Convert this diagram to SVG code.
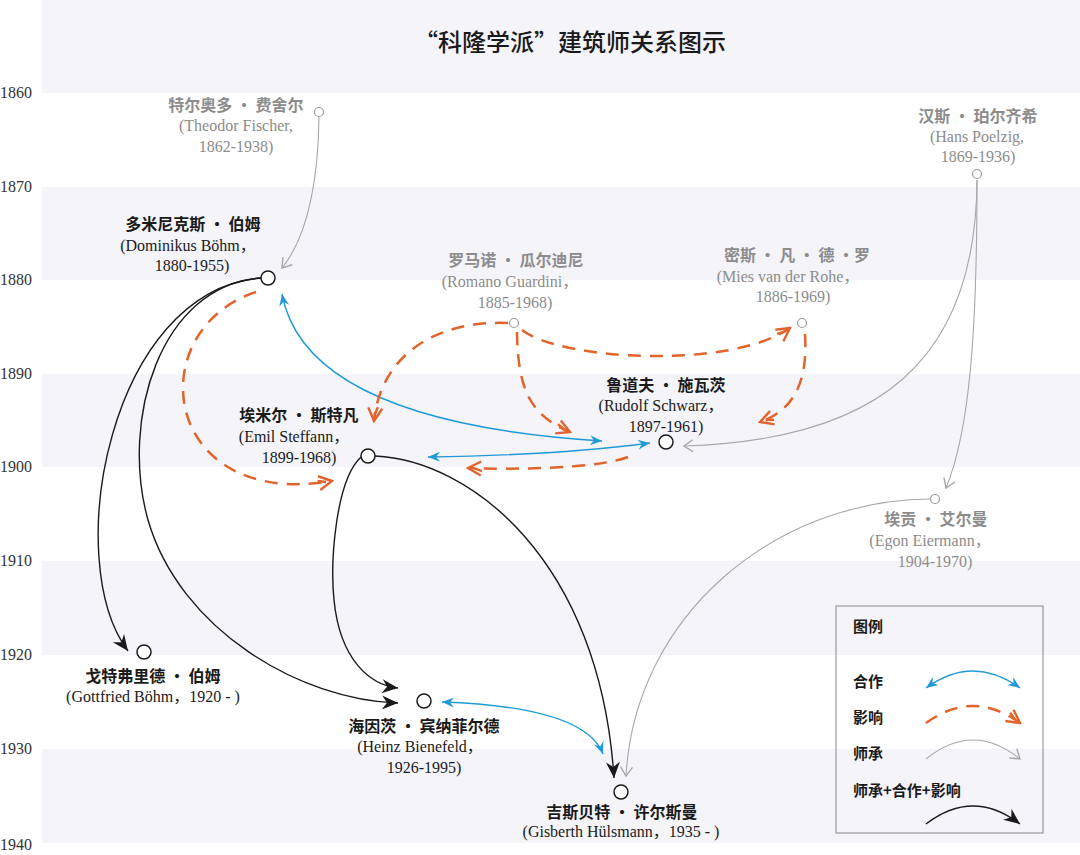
<svg xmlns="http://www.w3.org/2000/svg" width="1080" height="855" viewBox="0 0 1080 855">
<style>
.band{fill:#f4f4f9}
.yr{font-family:"Liberation Serif",serif;font-size:16px;fill:#333}
.cn{font-family:"Noto Sans CJK SC",sans-serif;font-size:16px;font-weight:700;text-anchor:middle}
.en{font-family:"Liberation Serif","Noto Sans CJK SC",serif;font-size:16px;text-anchor:middle}
.k{fill:#1a1a1a}
.g{fill:#8c8c8c}
.nb{fill:#fff;stroke:#1a1a1a;stroke-width:1.5}
.ng{fill:#fff;stroke:#9a9a9a;stroke-width:1.2}
.c-k{fill:none;stroke:#1a1a1a;stroke-width:1.4}
.c-b{fill:none;stroke:#1f9ad6;stroke-width:1.4}
.c-g{fill:none;stroke:#a8a8a8;stroke-width:1.1}
.c-o{fill:none;stroke:#e2632b;stroke-width:2.5;stroke-dasharray:13 9}
.lg{font-family:"Noto Sans CJK SC",sans-serif;font-size:15px;font-weight:700;fill:#1a1a1a}
</style>
<defs>
<marker id="mk" viewBox="-17 -8 18 16" refX="0" refY="0" markerWidth="18" markerHeight="16" markerUnits="userSpaceOnUse" orient="auto"><path d="M0,0 L-16,-7 L-11,0 L-16,7Z" fill="#1a1a1a"/></marker>
<marker id="mb" viewBox="-13 -6 14 12" refX="0" refY="0" markerWidth="14" markerHeight="12" markerUnits="userSpaceOnUse" orient="auto-start-reverse"><path d="M0,0 L-12,-5 L-8,0 L-12,5Z" fill="#1f9ad6"/></marker>
<marker id="mg" viewBox="-12 -8 13 16" refX="0" refY="0" markerWidth="13" markerHeight="16" markerUnits="userSpaceOnUse" orient="auto"><path d="M-9,-6 L0,0 L-9,6" fill="none" stroke="#a8a8a8" stroke-width="1.4"/></marker>
<marker id="mo" viewBox="-16 -10 18 20" refX="0" refY="0" markerWidth="18" markerHeight="20" markerUnits="userSpaceOnUse" orient="auto"><path d="M-13,-7 L0,0 L-13,7 M-14,-2.5 L-6,0" fill="none" stroke="#e2632b" stroke-width="2.4"/></marker>
</defs>
<rect width="1080" height="855" fill="#fff"/>
<g id="bands">
<rect class="band" x="42" y="0" width="1038" height="93"/>
<rect class="band" x="42" y="187" width="1038" height="93"/>
<rect class="band" x="42" y="374" width="1038" height="93"/>
<rect class="band" x="42" y="561" width="1038" height="94"/>
<rect class="band" x="42" y="749" width="1038" height="94"/>
</g>
<g id="axis">
<text class="yr" x="0" y="98">1860</text>
<text class="yr" x="0" y="192">1870</text>
<text class="yr" x="0" y="285">1880</text>
<text class="yr" x="0" y="379">1890</text>
<text class="yr" x="0" y="472">1900</text>
<text class="yr" x="0" y="566">1910</text>
<text class="yr" x="0" y="660">1920</text>
<text class="yr" x="0" y="754">1930</text>
<text class="yr" x="0" y="850">1940</text>
</g>
<text id="title" x="570" y="51" font-family="Noto Sans CJK SC, sans-serif" font-size="24" font-weight="500" fill="#1a1a1a" text-anchor="middle">“科隆学派”建筑师关系图示</text>
<g id="connectors">
<path class="c-g" d="M319,117 C318,190 306,238 282,268" marker-end="url(#mg)"/>
<path class="c-g" d="M977,180 C976,360 880,440 684,446" marker-end="url(#mg)"/>
<path class="c-g" d="M977,180 C977,330 970,430 946,488" marker-end="url(#mg)"/>
<path class="c-g" d="M930,499 C775,500 635,615 626,776" marker-end="url(#mg)"/>
<path class="c-k" d="M261,278 C110,290 60,560 128,651" marker-end="url(#mk)"/>
<path class="c-k" d="M261,278 C160,285 120,420 148,520 C180,630 300,700 398,703" marker-end="url(#mk)"/>
<path class="c-k" d="M361,457 C336,480 330,560 334,600 C340,660 370,685 398,688" marker-end="url(#mk)"/>
<path class="c-k" d="M375,456 C470,460 600,560 614,778" marker-end="url(#mk)"/>
<path class="c-b" d="M282,294 C300,390 430,430 602,441" marker-start="url(#mb)" marker-end="url(#mb)"/>
<path class="c-b" d="M428,457 Q560,455 650,443" marker-start="url(#mb)" marker-end="url(#mb)"/>
<path class="c-b" d="M442,702 C530,705 590,720 603,754" marker-start="url(#mb)" marker-end="url(#mb)"/>
<path class="c-o" d="M256,292 C140,330 160,510 332,481" marker-end="url(#mo)"/>
<path class="c-o" d="M508,323 C430,320 380,360 374,421" marker-end="url(#mo)"/>
<path class="c-o" d="M517,332 C518,390 530,415 570,432" marker-end="url(#mo)"/>
<path class="c-o" d="M522,330 C560,360 730,370 790,328" marker-end="url(#mo)"/>
<path class="c-o" d="M805,334 C808,380 795,410 760,422" marker-end="url(#mo)"/>
<path class="c-o" d="M628,457 C600,468 520,470 468,468" marker-end="url(#mo)"/>
</g>
<g id="n-fischer">
<circle class="ng" cx="319" cy="112" r="4.5"/>
<text class="cn g" x="236" y="111">特尔奥多 · 费舍尔</text>
<text class="en g" x="236" y="131">(Theodor Fischer,</text>
<text class="en g" x="236" y="152">1862-1938)</text>
</g>
<g id="n-dominikus">
<circle class="nb" cx="268" cy="278" r="7"/>
<text class="cn k" x="193" y="230">多米尼克斯 · 伯姆</text>
<text class="en k" x="188" y="251">(Dominikus Böhm，</text>
<text class="en k" x="192" y="271">1880-1955)</text>
</g>
<g id="n-guardini">
<circle class="ng" cx="514" cy="323" r="4.5"/>
<text class="cn g" x="516" y="266">罗马诺 · 瓜尔迪尼</text>
<text class="en g" x="510" y="287">(Romano Guardini，</text>
<text class="en g" x="515" y="308">1885-1968)</text>
</g>
<g id="n-mies">
<circle class="ng" cx="802" cy="323" r="4.5"/>
<text class="cn g" x="797" y="261">密斯 · 凡 · 德 ·罗</text>
<text class="en g" x="788" y="282">(Mies van der Rohe，</text>
<text class="en g" x="793" y="302">1886-1969)</text>
</g>
<g id="n-poelzig">
<circle class="ng" cx="977" cy="174" r="4.5"/>
<text class="cn g" x="978" y="122">汉斯 · 珀尔齐希</text>
<text class="en g" x="977" y="142">(Hans Poelzig,</text>
<text class="en g" x="978" y="162">1869-1936)</text>
</g>
<g id="n-steffann">
<circle class="nb" cx="368" cy="456" r="7"/>
<text class="cn k" x="299" y="421">埃米尔 · 斯特凡</text>
<text class="en k" x="294" y="442">(Emil Steffann，</text>
<text class="en k" x="299" y="463">1899-1968)</text>
</g>
<g id="n-schwarz">
<circle class="nb" cx="666" cy="442" r="7"/>
<text class="cn k" x="666" y="391">鲁道夫 · 施瓦茨</text>
<text class="en k" x="661" y="411">(Rudolf Schwarz，</text>
<text class="en k" x="666" y="432">1897-1961)</text>
</g>
<g id="n-eiermann">
<circle class="ng" cx="935" cy="499" r="4.5"/>
<text class="cn g" x="936" y="525">埃贡 · 艾尔曼</text>
<text class="en g" x="930" y="546">(Egon Eiermann，</text>
<text class="en g" x="935" y="567">1904-1970)</text>
</g>
<g id="n-gottfried">
<circle class="nb" cx="144" cy="652" r="7"/>
<text class="cn k" x="153" y="682">戈特弗里德 · 伯姆</text>
<text class="en k" x="153" y="702">(Gottfried Böhm，1920 - )</text>
</g>
<g id="n-heinz">
<circle class="nb" cx="424" cy="701" r="7"/>
<text class="cn k" x="424" y="732">海因茨 · 宾纳菲尔德</text>
<text class="en k" x="420" y="752">(Heinz Bienefeld，</text>
<text class="en k" x="424" y="773">1926-1995)</text>
</g>
<g id="n-huelsmann">
<circle class="nb" cx="621" cy="792" r="7"/>
<text class="cn k" x="622" y="818">吉斯贝特 · 许尔斯曼</text>
<text class="en k" x="621" y="837">(Gisberth Hülsmann，1935 - )</text>
</g>
<g id="legend">
<rect x="836" y="606" width="207" height="227" fill="none" stroke="#8a8a8a" stroke-width="1"/>
<text class="lg" x="853" y="632">图例</text>
<text class="lg" x="853" y="687">合作</text>
<text class="lg" x="853" y="723">影响</text>
<text class="lg" x="853" y="759">师承</text>
<text class="lg" x="853" y="796">师承+合作+影响</text>
<path class="c-b" d="M926,688 Q973,654 1020,688" marker-start="url(#mb)" marker-end="url(#mb)"/>
<path class="c-o" d="M926,723 Q973,689 1020,723" stroke-width="2" stroke-dasharray="10 8" marker-end="url(#mo)"/>
<path class="c-g" d="M926,759 Q973,721 1020,759" marker-end="url(#mg)"/>
<path class="c-k" d="M926,824 Q973,788 1020,824" marker-end="url(#mk)"/>
</g>
</svg>
